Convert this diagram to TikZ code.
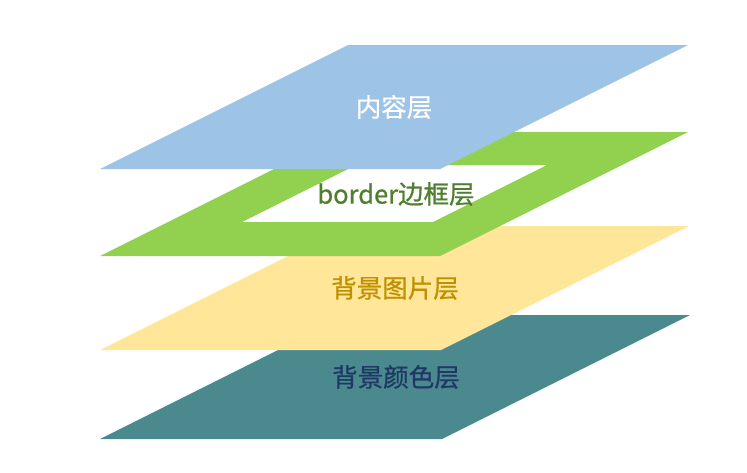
\documentclass[tikz,border=0pt]{standalone}
\usepackage{fontspec}
\newfontfamily\cjk[BoldFont={Noto Sans CJK SC}, BoldFeatures={FakeBold=0.7}]{Noto Sans CJK SC}
\definecolor{lblue}{HTML}{9DC3E6}
\definecolor{lgreen}{HTML}{92D050}
\definecolor{lyellow}{HTML}{FFE699}
\definecolor{lteal}{HTML}{4A8A8E}
\definecolor{tgreen}{HTML}{4F7F2E}
\definecolor{tgold}{HTML}{BF9000}
\definecolor{tnavy}{HTML}{1F3864}
\tikzset{
  layer/.style={draw=none},
  lbl/.style={font=\cjk\bfseries\fontsize{25.5}{28}\selectfont, inner sep=0pt, anchor=center}
}
\begin{document}
\begin{tikzpicture}[x=1pt,y=-1pt]
\useasboundingbox (0,0) rectangle (747,472);
% bottom: background colour layer
\fill[lteal] (348,315) -- (690,315) -- (442,439) -- (100,439) -- cycle;
% background image layer
\fill[lyellow] (348,226) -- (689,226) -- (441,350) -- (100,350) -- cycle;
% border layer with hole
\fill[lgreen, even odd rule] (348,132) -- (688,132) -- (440,256) -- (100,256) -- cycle
  (356,165) -- (547,165) -- (433,222) -- (242,222) -- cycle;
% content layer
\fill[lblue] (348,45) -- (688,45) -- (440,169) -- (100,169) -- cycle;
\node[lbl, text=white] (content) at (394,107) {内容层};
\node[lbl, text=tgreen] (border) at (396,194) {border边框层};
\node[lbl, text=tgold] (bgimg) at (395,288) {背景图片层};
\node[lbl, text=tnavy] (bgcol) at (396,377) {背景颜色层};
\end{tikzpicture}
\end{document}
